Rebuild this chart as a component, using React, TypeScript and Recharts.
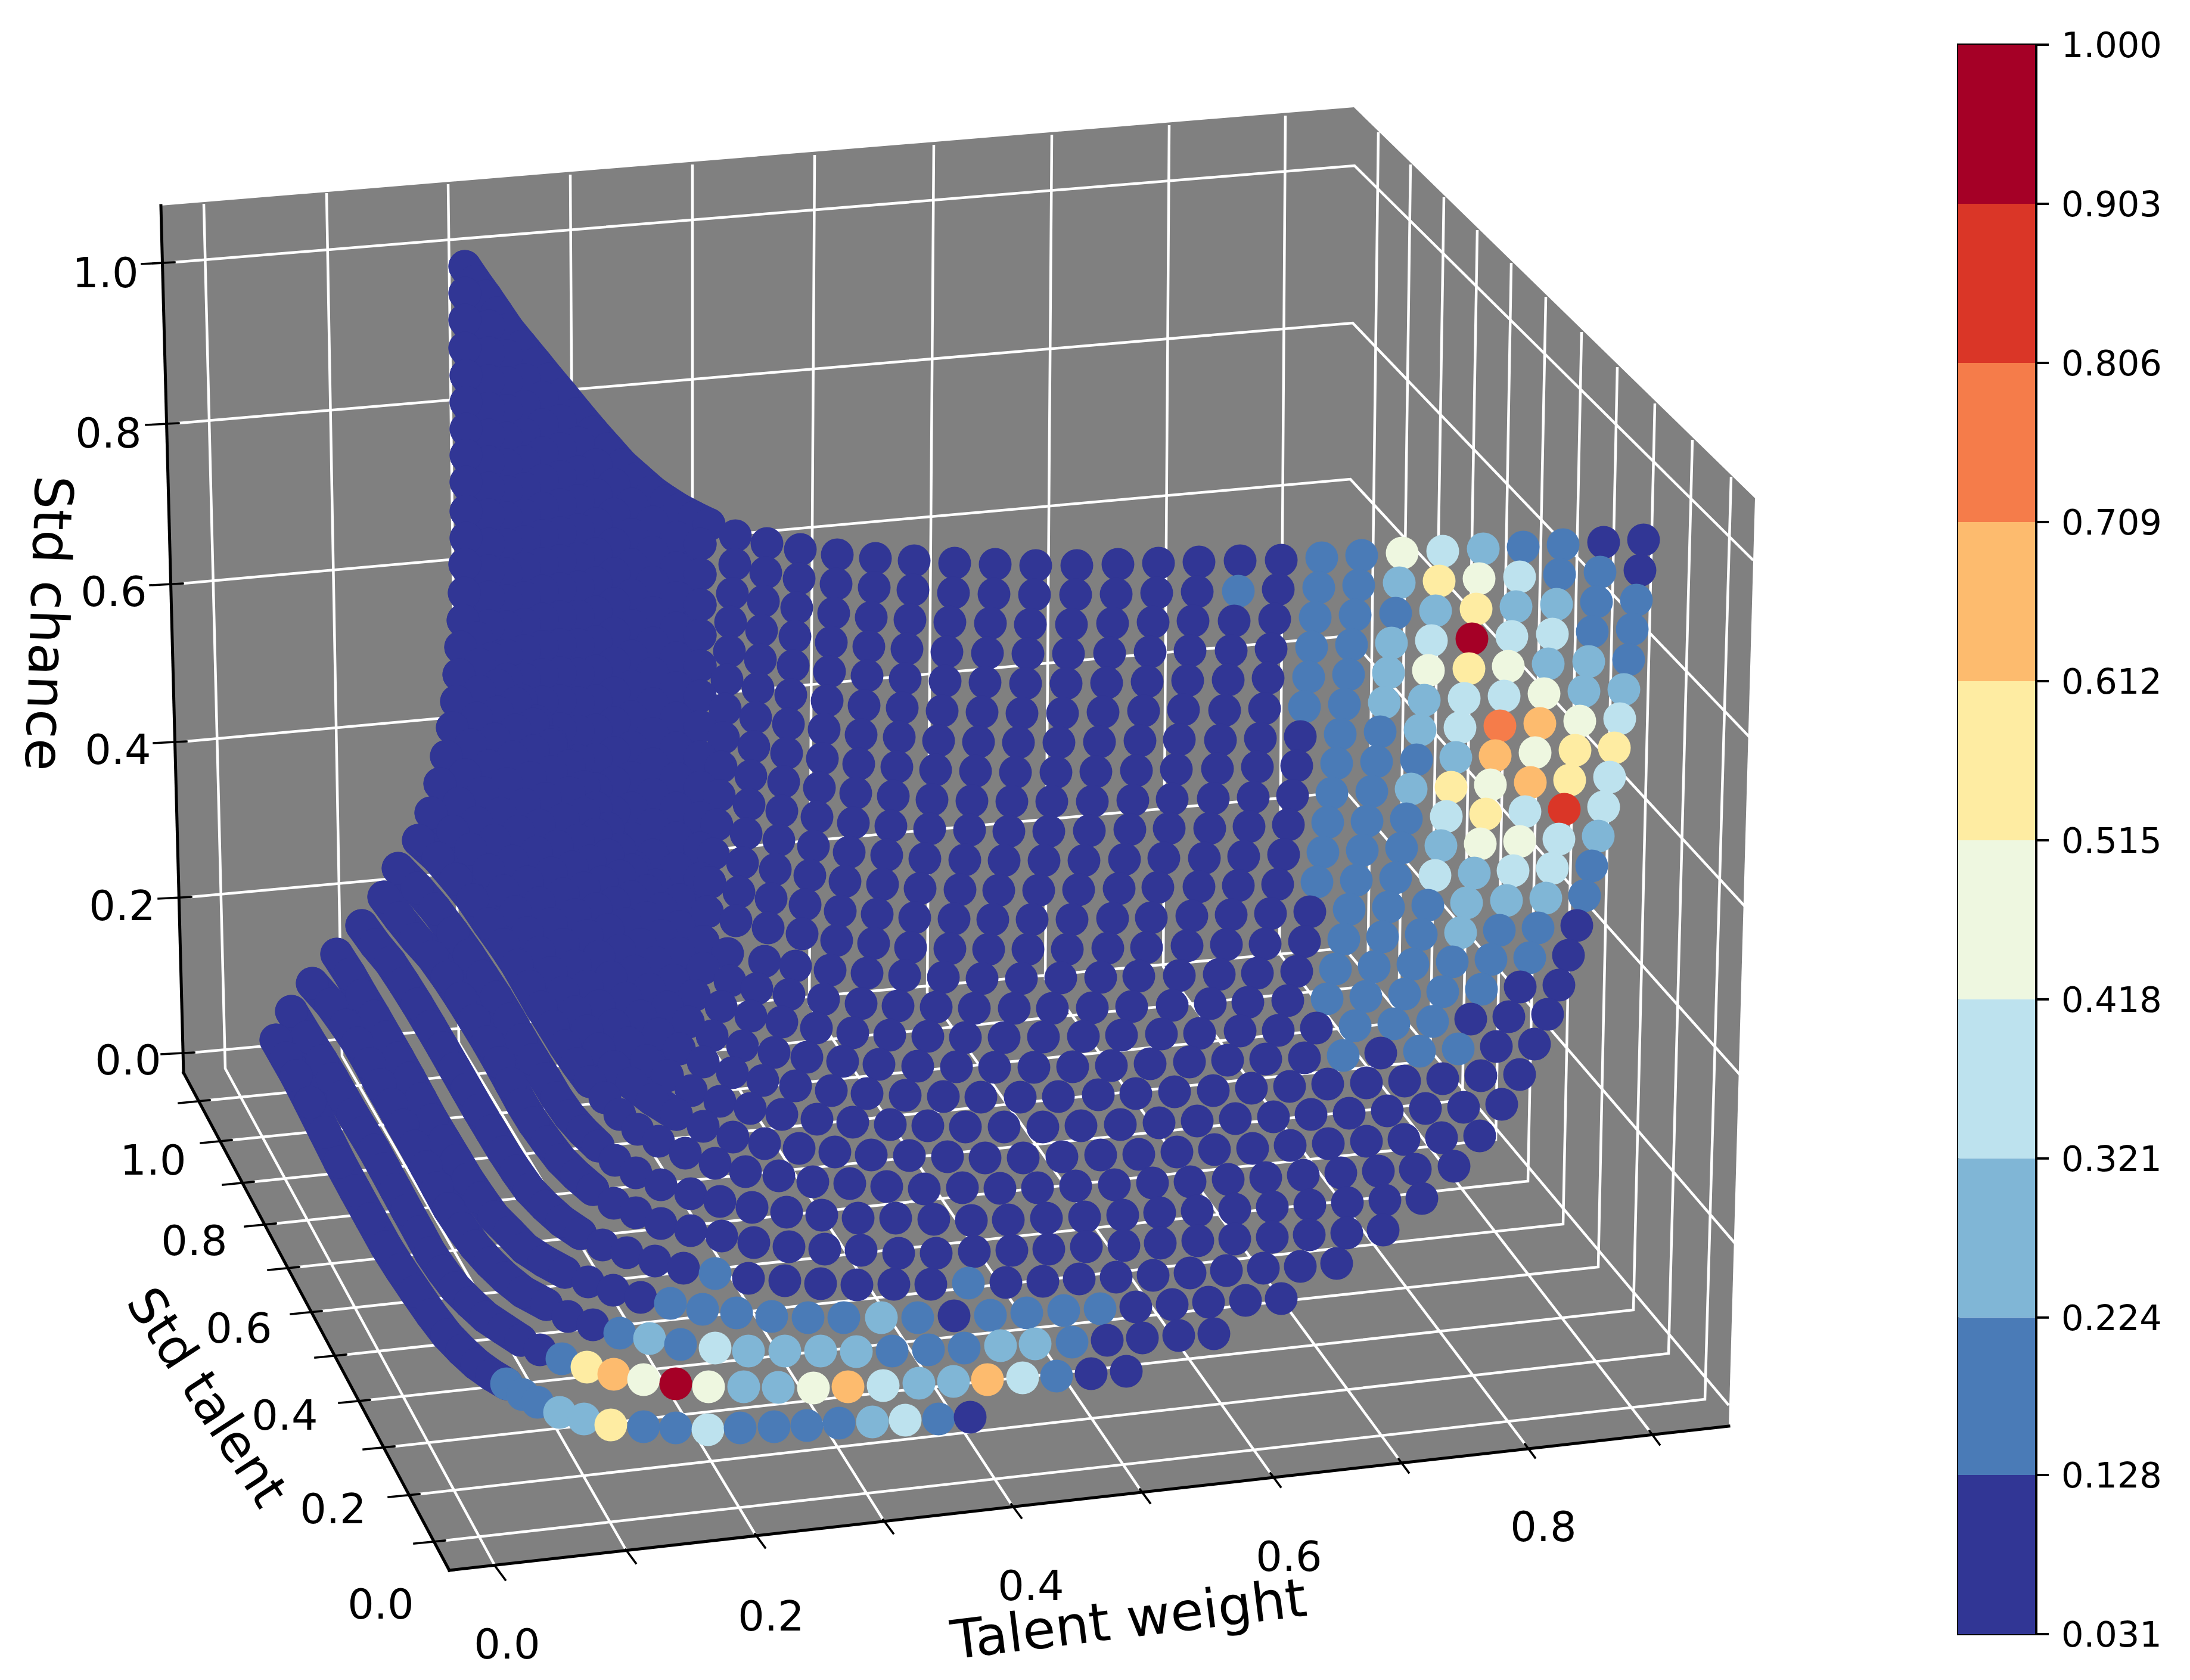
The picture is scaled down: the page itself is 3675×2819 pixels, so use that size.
import React from "react";
import { ScatterChart, Scatter, XAxis, YAxis, Customized, BarChart, Bar, ReferenceArea } from "recharts";

// Recharts has no 3D scatter, so the surface is read in the plane of the picture:
// each row lists (viewX, viewY) pairs, rightmost point first, in a 3675 x 2819 view space.
const row00 = [2758,906,2691,910,2623,914,2556,918,2489,921,2421,925,2353,928,2285,932,2218,936,2150,940,2081,941,2012,943,1944,945,1876,947,1807,949,1738,949,1670,947,1602,945,1534,941,1469,937,1405,931,1343,922,1287,912,1234,899,1190,880,1165,868,1140,855,1118,841,1095,825,1070,803,1044,780,1020,753,995,725,969,694,943,662,921,636,900,610,876,581,853,553,834,525,815,497,797,472,780,447];
const row01 = [2752,957,2685,960,2617,964,2550,968,2482,971,2415,975,2348,978,2280,982,2213,986,2145,989,2078,992,2009,993,1941,995,1873,997,1805,998,1736,998,1668,997,1600,995,1532,990,1467,986,1403,980,1341,971,1285,961,1233,947,1175,913,1135,902,1095,876,1060,846,1030,813,1000,780,970,743,940,706,910,667,880,637,850,597,820,547,780,492];
const row02 = [2746,1007,2679,1010,2612,1014,2544,1018,2477,1022,2409,1025,2342,1029,2274,1032,2207,1036,2139,1039,2071,1042,2002,1042,1935,1044,1867,1046,1798,1048,1729,1048,1662,1046,1594,1044,1527,1040,1462,1036,1399,1029,1337,1020,1281,1009,1229,996,1175,964,1135,953,1095,927,1060,897,1030,863,1000,830,970,792,940,753,910,713,880,682,850,642,820,592,780,537];
const row03 = [2739,1056,2672,1060,2605,1064,2537,1068,2470,1072,2402,1075,2335,1079,2268,1082,2201,1086,2133,1089,2066,1092,1997,1092,1930,1094,1862,1096,1793,1097,1725,1097,1657,1096,1589,1094,1522,1089,1458,1085,1395,1078,1334,1068,1278,1058,1226,1044,1175,1015,1135,1003,1095,977,1060,948,1030,913,1000,879,970,840,940,800,910,760,880,729,850,689,820,639,780,584];
const row04 = [2733,1107,2666,1110,2598,1114,2531,1118,2465,1122,2397,1125,2330,1129,2263,1132,2196,1136,2128,1138,2061,1141,1993,1142,1925,1144,1857,1146,1789,1147,1721,1147,1653,1145,1586,1143,1519,1139,1455,1134,1392,1127,1331,1117,1276,1107,1224,1093,1175,1066,1135,1054,1095,1028,1060,999,1030,963,1000,929,970,889,940,847,910,806,880,775,850,735,820,685,782,630];
const row05 = [2725,1157,2658,1160,2591,1164,2524,1168,2457,1172,2390,1175,2323,1179,2256,1182,2189,1186,2122,1189,2055,1192,1986,1191,1919,1193,1851,1195,1783,1197,1715,1197,1648,1195,1581,1193,1514,1188,1450,1184,1388,1176,1327,1166,1272,1155,1220,1141,1175,1117,1135,1104,1095,1079,1060,1050,1030,1013,1000,978,970,937,940,894,910,853,880,820,850,780,820,730,782,675];
const row06 = [2718,1206,2651,1210,2584,1214,2517,1218,2450,1221,2383,1225,2316,1228,2249,1232,2182,1236,2115,1239,2048,1242,1979,1241,1913,1243,1845,1245,1777,1246,1709,1246,1642,1245,1575,1243,1509,1237,1445,1233,1383,1224,1323,1215,1268,1204,1217,1190,1175,1168,1135,1154,1095,1130,1060,1101,1030,1063,1000,1027,970,985,940,941,910,899,880,865,850,825,820,775,782,720];
const row07 = [2709,1255,2643,1259,2576,1263,2509,1268,2443,1271,2377,1275,2310,1278,2243,1281,2176,1285,2110,1287,2043,1290,1974,1291,1907,1293,1839,1295,1772,1296,1704,1296,1637,1294,1570,1292,1505,1287,1441,1282,1380,1273,1320,1264,1265,1253,1214,1238,1175,1219,1135,1205,1095,1181,1060,1152,1030,1113,1000,1077,970,1034,940,988,910,946,880,909,850,869,820,819,782,764];
const row08 = [2701,1304,2634,1309,2568,1313,2501,1317,2435,1321,2368,1324,2302,1328,2235,1331,2169,1335,2103,1338,2036,1340,1967,1341,1901,1343,1833,1345,1765,1345,1698,1345,1631,1344,1564,1342,1499,1336,1436,1331,1375,1322,1315,1312,1260,1302,1210,1287,1175,1270,1135,1255,1095,1231,1060,1203,1030,1163,1000,1126,970,1082,940,1035,910,992,880,954,850,914,820,864,782,809];
const row09 = [2691,1354,2625,1358,2559,1362,2493,1366,2427,1370,2360,1374,2294,1378,2228,1380,2162,1384,2096,1387,2030,1390,1962,1390,1896,1392,1828,1394,1760,1395,1693,1395,1627,1393,1560,1391,1495,1386,1432,1381,1371,1371,1312,1361,1257,1350,1207,1335,1175,1321,1135,1306,1095,1282,1060,1254,1030,1213,1000,1176,970,1131,940,1082,910,1039,880,1003,850,963,820,913,782,858];
const row10 = [2682,1403,2616,1408,2550,1412,2484,1416,2418,1419,2352,1423,2286,1427,2220,1430,2154,1434,2087,1437,2021,1440,1953,1440,1887,1442,1819,1444,1752,1444,1685,1444,1619,1443,1552,1441,1488,1435,1425,1430,1365,1420,1307,1410,1252,1399,1203,1384,1175,1372,1135,1356,1095,1333,1060,1305,1030,1263,1000,1225,970,1179,940,1129,910,1085,880,1048,850,1008,820,958,782,903];
const row11 = [2671,1453,2605,1457,2539,1461,2474,1465,2408,1469,2342,1473,2276,1477,2210,1480,2144,1484,2078,1486,2012,1488,1943,1489,1878,1491,1810,1493,1743,1494,1676,1494,1611,1493,1544,1491,1481,1484,1418,1479,1359,1469,1301,1459,1246,1448,1197,1433,1175,1423,1135,1406,1095,1384,1060,1356,1030,1313,1000,1274,970,1227,940,1176,910,1132,880,1092,850,1052,820,1002,780,947];
const row12 = [2659,1503,2594,1507,2528,1511,2461,1515,2396,1519,2330,1522,2264,1526,2198,1530,2132,1533,2066,1535,2000,1537,1932,1540,1867,1541,1799,1543,1732,1543,1666,1543,1601,1542,1535,1540,1472,1534,1410,1529,1351,1518,1294,1508,1240,1497,1191,1481,1175,1474,1135,1457,1095,1435,1060,1407,1030,1363,1000,1324,970,1276,940,1223,910,1178,880,1140,850,1100,820,1050,779,995];
const row13 = [2646,1553,2581,1557,2516,1561,2451,1565,2385,1568,2320,1572,2255,1576,2189,1580,2123,1584,2058,1585,1992,1587,1924,1590,1859,1591,1791,1593,1725,1593,1659,1593,1594,1592,1528,1590,1466,1583,1404,1578,1346,1567,1289,1557,1235,1545,1187,1530,1140,1510,1100,1485,1065,1455,1035,1420,1010,1385,985,1350,965,1315,945,1280,925,1245,900,1210,875,1175,850,1140,825,1105,800,1070,777,1041];
const row14 = [2632,1603,2567,1607,2502,1610,2437,1614,2371,1618,2306,1622,2241,1626,2176,1630,2110,1633,2046,1635,1979,1637,1911,1638,1847,1640,1780,1641,1714,1642,1648,1642,1583,1640,1518,1637,1455,1633,1393,1628,1335,1621,1283,1613,1221,1600,1180,1580,1140,1555,1110,1525,1085,1495,1060,1460,1040,1425,1020,1390,1000,1355,980,1320,955,1285,925,1250,895,1215,865,1180,835,1150,805,1115,773,1086];
const row15 = [2616,1653,2551,1656,2486,1660,2421,1664,2357,1668,2292,1672,2227,1676,2161,1679,2094,1682,2031,1684,1967,1687,1899,1689,1833,1691,1766,1692,1702,1692,1635,1692,1571,1690,1507,1688,1445,1684,1382,1677,1324,1669,1270,1659,1225,1646,1180,1625,1140,1600,1110,1570,1085,1540,1060,1505,1040,1470,1020,1435,1000,1400,980,1365,955,1330,925,1295,895,1260,865,1225,835,1195,805,1160,770,1132];
const row16 = [2597,1702,2532,1706,2468,1710,2404,1714,2339,1718,2274,1721,2209,1725,2145,1729,2081,1730,2013,1734,1949,1735,1882,1737,1818,1739,1751,1740,1685,1741,1620,1741,1557,1739,1493,1737,1431,1733,1370,1725,1312,1715,1260,1705,1210,1689,1165,1670,1130,1645,1100,1615,1075,1585,1050,1550,1030,1515,1010,1480,990,1445,970,1410,945,1375,915,1340,890,1305,860,1270,830,1240,800,1205,766,1177];
const row17 = [2575,1752,2511,1756,2447,1760,2382,1764,2317,1767,2254,1771,2189,1775,2124,1777,2060,1779,1996,1782,1930,1785,1865,1788,1800,1790,1735,1791,1669,1791,1605,1790,1540,1789,1475,1786,1414,1781,1354,1774,1299,1766,1246,1755,1195,1738,1155,1715,1120,1690,1090,1660,1065,1630,1040,1595,1020,1560,1000,1525,980,1490,960,1455,935,1420,905,1385,880,1350,850,1315,820,1285,790,1250,759,1221];
const row18 = [2550,1803,2485,1805,2421,1810,2357,1814,2293,1817,2228,1819,2164,1823,2100,1826,2036,1830,1971,1832,1906,1835,1843,1837,1776,1840,1712,1841,1646,1841,1583,1840,1519,1838,1455,1835,1395,1830,1335,1822,1280,1813,1229,1800,1180,1782,1140,1760,1105,1735,1075,1705,1050,1675,1025,1640,1005,1605,985,1570,965,1535,945,1500,925,1465,900,1430,870,1395,840,1365,810,1330,780,1300,749,1269];
const row19 = [2520,1853,2456,1858,2392,1860,2328,1864,2264,1868,2200,1870,2137,1874,2073,1877,2009,1881,1945,1884,1880,1887,1814,1889,1750,1891,1685,1891,1620,1891,1557,1889,1494,1887,1431,1883,1371,1878,1312,1870,1259,1860,1208,1848,1160,1830,1120,1805,1085,1780,1055,1750,1030,1720,1005,1688,985,1655,965,1620,945,1585,925,1550,905,1515,885,1480,860,1445,830,1410,800,1380,770,1348,738,1315];
const row20 = [2483,1906,2419,1909,2356,1912,2293,1915,2229,1919,2165,1922,2102,1927,2038,1929,1975,1933,1911,1937,1847,1938,1782,1941,1717,1943,1653,1943,1590,1941,1526,1939,1462,1938,1401,1933,1341,1927,1283,1919,1230,1908,1180,1890,1135,1870,1095,1845,1060,1818,1030,1790,1005,1760,985,1730,965,1698,945,1665,925,1632,905,1598,885,1565,865,1530,845,1495,820,1460,790,1425,760,1395,723,1364];
const row21 = [2440,1957,2375,1962,2313,1965,2250,1968,2187,1972,2124,1976,2061,1979,1997,1983,1934,1985,1870,1988,1805,1990,1741,1993,1678,1994,1615,1993,1551,1995,1488,1991,1426,1986,1364,1983,1307,1973,1251,1966,1200,1952,1150,1935,1105,1915,1070,1895,1040,1870,1015,1842,990,1815,968,1785,948,1755,928,1722,908,1690,888,1655,868,1620,845,1585,820,1550,793,1510,765,1475,735,1440,702,1410];
const row22 = [2386,2011,2324,2014,2261,2018,2198,2022,2135,2025,2072,2029,2009,2032,1946,2035,1884,2039,1820,2042,1756,2044,1692,2047,1630,2048,1567,2046,1503,2044,1440,2044,1379,2039,1320,2034,1262,2026,1208,2016,1159,2003,1109,1988,1067,1968,1032,1947,1004,1923,978,1898,955,1872,934,1842,915,1810,895,1778,875,1745,855,1710,833,1673,810,1638,787,1603,760,1565,730,1525,700,1490,668,1457];
const row23 = [2321,2064,2260,2069,2197,2072,2135,2076,2072,2079,2010,2082,1947,2086,1886,2090,1823,2092,1760,2096,1698,2098,1635,2100,1571,2103,1508,2103,1445,2098,1384,2096,1324,2092,1265,2085,1211,2074,1159,2065,1109,2053,1067,2035,1030,2019,995,1996,967,1972,941,1946,918,1916,895,1884,876,1853,857,1818,838,1783,818,1748,796,1712,773,1675,750,1640,725,1605,698,1575,670,1540,644,1505];
const row24 = [2243,2120,2182,2125,2120,2128,2058,2132,1997,2136,1935,2140,1873,2143,1811,2146,1750,2150,1688,2152,1625,2153,1562,2155,1500,2155,1438,2156,1377,2154,1317,2149,1256,2145,1200,2137,1147,2128,1099,2116,1052,2102,1011,2089,974,2070,943,2049,915,2024,888,1996,866,1965,845,1933,824,1898,803,1863,783,1828,763,1793,743,1758,722,1722,700,1685,678,1650,655,1615,630,1585,607,1553];
const row25 = [2150,2179,2090,2182,2028,2185,1967,2189,1906,2193,1846,2196,1785,2199,1723,2203,1662,2207,1601,2208,1540,2211,1479,2211,1416,2211,1356,2211,1295,2209,1236,2203,1179,2197,1125,2187,1075,2177,1029,2165,987,2151,948,2135,913,2116,881,2095,855,2068,829,2042,806,2010,785,1979,766,1947,746,1914,725,1879,706,1844,687,1809,668,1775,648,1740,628,1705,607,1670,587,1635,565,1601];
const row26 = [2037,2238,1978,2241,1917,2245,1858,2249,1799,2252,1737,2255,1679,2258,1618,2262,1558,2265,1497,2267,1437,2268,1377,2267,1317,2267,1256,2267,1200,2262,1142,2256,1090,2246,1040,2237,995,2223,953,2209,917,2189,878,2168,848,2144,822,2119,797,2091,775,2061,753,2028,734,1993,715,1958,696,1923,676,1888,657,1853,638,1820,620,1785,600,1750,580,1720,555,1685,524,1650];
const row27 = [1890,2301,1831,2305,1773,2309,1716,2312,1657,2315,1600,2318,1542,2321,1482,2325,1423,2327,1365,2329,1306,2328,1248,2327,1189,2327,1134,2322,1080,2315,1030,2306,985,2294,943,2280,906,2265,874,2249,845,2230,815,2210,789,2186,764,2161,743,2133,722,2102,703,2067,683,2031,664,1996,645,1961,628,1930,610,1900,592,1870,575,1840,558,1810,540,1780,515,1740,489,1697];
const row28 = [1628,2378,1575,2381,1519,2383,1464,2386,1408,2388,1354,2392,1299,2394,1242,2396,1188,2399,1134,2396,1080,2394,1025,2391,980,2381,939,2370,902,2353,877,2340,850,2322,825,2307,800,2289,775,2266,750,2240,724,2206,697,2167,672,2130,648,2092,622,2045,596,1998,570,1950,545,1900,520,1850,497,1805,480,1775,463,1745];
const surfaceRows = [row00,row01,row02,row03,row04,row05,row06,row07,row08,row09,row10,row11,row12,row13,row14,row15,row16,row17,row18,row19,row20,row21,row22,row23,row24,row25,row26,row27,row28];

// Colour-bar class of the points at the right end of each row; all other points are class 0.
const classByRow: number[][] = [
  [0,0,1,1,2,3,4,1,1],[0,1,1,3,4,5,2,1,1,0,1],[1,1,2,2,5,2,1,1,1],[1,1,3,3,9,3,2,1,1],
  [1,2,2,4,5,4,2,1,1],[2,2,4,3,3,2,2,1,1],[3,4,6,7,3,2,1,1],[5,5,4,6,2,1,1,1],
  [3,5,6,4,5,2,1,1],[3,8,3,5,3,1,1,1],[2,3,4,4,2,1,1,1],[1,3,3,2,3,1,1,1],
  [1,2,2,2,1,1,1],[0,1,1,2,1,1,1],[0,1,1,1,1,1,1],[0,0,1,1,1,1,1],[0,0,0,1,1,1],[0,0,1,1,0,1],
  [],[],[],[],[],[],
  [0,0,0,0,0,0,0,0,0,0,1,0,0,0,0,0,0,1],
  [0,0,0,0,0,1,1,1,1,0,1,2,1,1,1,1,1,1],
  [0,0,0,0,1,2,2,1,1,1,2,2,2,2,3,1,2,1],
  [0,0,1,3,6,2,2,3,6,4,2,2,4,9,4,6,5,1],
  [0,1,3,2,1,1,1,1,3,1,1,5,2,2,1,1,1],
];

// View-plane x below which a row's points overlap into one continuous strip.
const stripBelowX = [1195,1195,1195,1195,1195,1195,1195,1195,1195,1195,1195,1195,1195,1195,1190,1190,1180,1170,1160,1150,1140,1010,1010,1010,1010,960,920,880,851];

const bandEdges = [0.031,0.128,0.224,0.321,0.418,0.515,0.612,0.709,0.806,0.903,1.0];
const bandColors = ["#313695","#4a7bb7","#80b6d6","#bde2ee","#eef7e0","#feeca2","#fdbb6e","#f57c4a","#da3627","#a50026"];

// axes furniture, in the same view plane
const zTickLabels = ["0.0","0.2","0.4","0.6","0.8","1.0"];
const zLeft = [[326,1766],[321,1505],[313,1244],[307,979],[300,710],[293,440]];
const zCorner = [[2256,1591],[2259,1329],[2262,1067],[2266,804],[2270,542],[2273,278]];
const zRight = [[2901,2358],[2913,2088],[2923,1807],[2930,1523],[2936,1237],[2942,940]];
const zLabelAt = [[215,1779],[205,1520],[198,1258],[191,993],[182,727],[177,458]];
const yLeft = [[747,2585],[704,2507],[662,2427],[621,2349],[581,2273],[540,2200],[502,2126],[463,2053],[426,1983],[389,1913],[352,1846]];
const yCorner = [[2861,2348],[2800,2271],[2741,2198],[2682,2126],[2623,2054],[2564,1982],[2510,1912],[2454,1846],[2400,1780],[2347,1716],[2295,1655]];
const yTop = [[2905,800],[2840,738],[2777,677],[2714,616],[2654,557],[2594,498],[2536,441],[2479,386],[2423,331],[2367,276],[2313,222]];
const yTickLabels = ["0.0","0.2","0.4","0.6","0.8","1.0"];
const yLabelAt = [[639,2692],[559,2532],[478,2375],[401,2229],[326,2082],[257,1947]];
const xFront = [[831,2628],[1050,2600],[1267,2574],[1482,2550],[1697,2524],[1913,2499],[2132,2472],[2347,2448],[2559,2423],[2768,2401]];
const xBack = [[378,1793],[574,1772],[770,1750],[966,1729],[1162,1708],[1358,1686],[1556,1665],[1754,1643],[1952,1622],[2147,1600]];
const xTop = [[342,342],[548,324],[752,309],[957,293],[1162,276],[1367,260],[1567,243],[1765,226],[1962,210],[2157,194]];
const xTickLabels = ["0.0","0.2","0.4","0.6","0.8"];
const xLabelAt = [[851,2759],[1294,2712],[1730,2661],[2163,2612],[2590,2562]];
const paneOutline = [[270,345],[2272,180],[2945,836],[2901,2393],[754,2635],[308,1800]];
const spines = [[[270,345],[308,1800]],[[308,1800],[754,2635]],[[754,2635],[2901,2393]]];

const FONT = "DejaVu Sans";
const NAVY = bandColors[0];
const points: { x: number; y: number; fill: string }[] = [];
const strips: { x: number; y: number }[][] = [];
surfaceRows.forEach((row, j) => {
  const n = row.length / 2;
  const strip: { x: number; y: number }[] = [];
  for (let k = n - 1; k >= 0; k--) {
    const c = classByRow[j][k] ?? 0;
    points.push({ x: row[2 * k], y: row[2 * k + 1], fill: bandColors[c] });
    if (row[2 * k] < stripBelowX[j]) strip.push({ x: row[2 * k], y: row[2 * k + 1] });
  }
  strips.push(strip);
});

const polyline = (pts: number[][], key: string) => (
  <polyline key={key} points={pts.map((p) => p.join(",")).join(" ")} fill="none" stroke="#fff" strokeWidth={4.5} strokeLinejoin="miter" />
);
const blackLine = (a: number[], b: number[], w: number, key: string) => (
  <line key={key} x1={a[0]} y1={a[1]} x2={b[0]} y2={b[1]} stroke="#000" strokeWidth={w} strokeLinecap="square" />
);
const label = (t: string, at: number[], key: string) => (
  <text key={key} x={at[0]} y={at[1]} fontFamily={FONT} fontSize={70} fill="#000" textAnchor="middle" dominantBaseline="central">{t}</text>
);
const axisTitle = (t: string, at: number[], rot: number, size: number) => (
  <text key={t} x={at[0]} y={at[1]} fontFamily={FONT} fontSize={size} fill="#000" textAnchor="middle" dominantBaseline="central" transform={`rotate(${rot} ${at[0]} ${at[1]})`}>{t}</text>
);

const Panes = () => (
  <g>
    <polygon points={paneOutline.map((p) => p.join(",")).join(" ")} fill="#808080" />
    {zLeft.map((p, i) => polyline([p, zCorner[i], zRight[i]], `z${i}`))}
    {yLeft.map((p, i) => polyline([p, yCorner[i], yTop[i]], `y${i}`))}
    {xFront.map((p, i) => polyline([p, xBack[i], xTop[i]], `x${i}`))}
    {spines.map((s, i) => blackLine(s[0], s[1], 5, `s${i}`))}
    {zLeft.map((p, i) => blackLine(p, [p[0] - 55, p[1] + 3], 3.5, `zt${i}`))}
    {yLeft.map((p, i) => blackLine(p, [p[0] - 52, p[1] + 5], 3.5, `yt${i}`))}
    {xFront.map((p, i) => blackLine(p, [p[0] + 17, p[1] + 23], 3.5, `xt${i}`))}
    {zTickLabels.map((t, i) => label(t, zLabelAt[i], `zl${i}`))}
    {yTickLabels.map((t, i) => label(t, yLabelAt[i], `yl${i}`))}
    {xTickLabels.map((t, i) => label(t, xLabelAt[i], `xl${i}`))}
    {axisTitle("Std chance", [82, 1046], 92, 89)}
    {axisTitle("Std talent", [348, 2344], 57, 85)}
    {axisTitle("Talent weight", [1894, 2716], -7, 90)}
  </g>
);

const barRow = [bandEdges.slice(1).reduce((acc: any, hi, i) => {
  acc[`b${i}`] = i === 0 ? hi : +(hi - bandEdges[i]).toFixed(3);
  return acc;
}, { name: "bar" })];

export default function App() {
  return (
    <div style={{ position: "absolute", left: 0, top: 0, width: 3675, height: 2819, background: "#fff", overflow: "hidden" }}>
      <div style={{ position: "absolute", left: 0, top: 0 }}>
        <ScatterChart width={3675} height={2819} margin={{ top: 0, right: 0, bottom: 0, left: 0 }}>
          <XAxis type="number" dataKey="x" domain={[0, 3675]} hide />
          <YAxis type="number" dataKey="y" domain={[0, 2819]} reversed hide />
          <Customized component={Panes} />
          {strips.map((s, j) => (
            <Scatter
              key={`strip${j}`}
              data={s}
              isAnimationActive={false}
              line={{ stroke: NAVY, strokeWidth: 55, strokeLinejoin: "round", strokeLinecap: "round", fill: "none" }}
              lineType="joint"
              shape={() => null}
            />
          ))}
          <Scatter
            data={points}
            isAnimationActive={false}
            shape={(p: any) => <circle cx={p.cx} cy={p.cy} r={27.5} fill={p.payload.fill} />}
          />
        </ScatterChart>
      </div>
      <div style={{ position: "absolute", left: 3250, top: 0 }}>
        <BarChart width={425} height={2819} data={barRow} margin={{ top: 75, bottom: 77, left: 36, right: 0 }} barCategoryGap={0}>
          <XAxis dataKey="name" hide />
          <YAxis
            orientation="right"
            type="number"
            width={258}
            domain={[0.031, 1]}
            allowDataOverflow
            ticks={bandEdges}
            interval={0}
            tickFormatter={(v: number) => v.toFixed(3)}
            tickSize={21}
            tickMargin={21}
            tick={{ fontFamily: FONT, fontSize: 59, fill: "#000" }}
            tickLine={{ stroke: "#000", strokeWidth: 4 }}
            axisLine={{ stroke: "#000", strokeWidth: 4 }}
          />
          {bandColors.map((c, i) => (
            <Bar key={c} dataKey={`b${i}`} stackId="bar" fill={c} isAnimationActive={false} />
          ))}
          <ReferenceArea y1={0.031} y2={1} fill="none" stroke="#000" strokeWidth={4} ifOverflow="visible" />
        </BarChart>
      </div>
    </div>
  );
}
